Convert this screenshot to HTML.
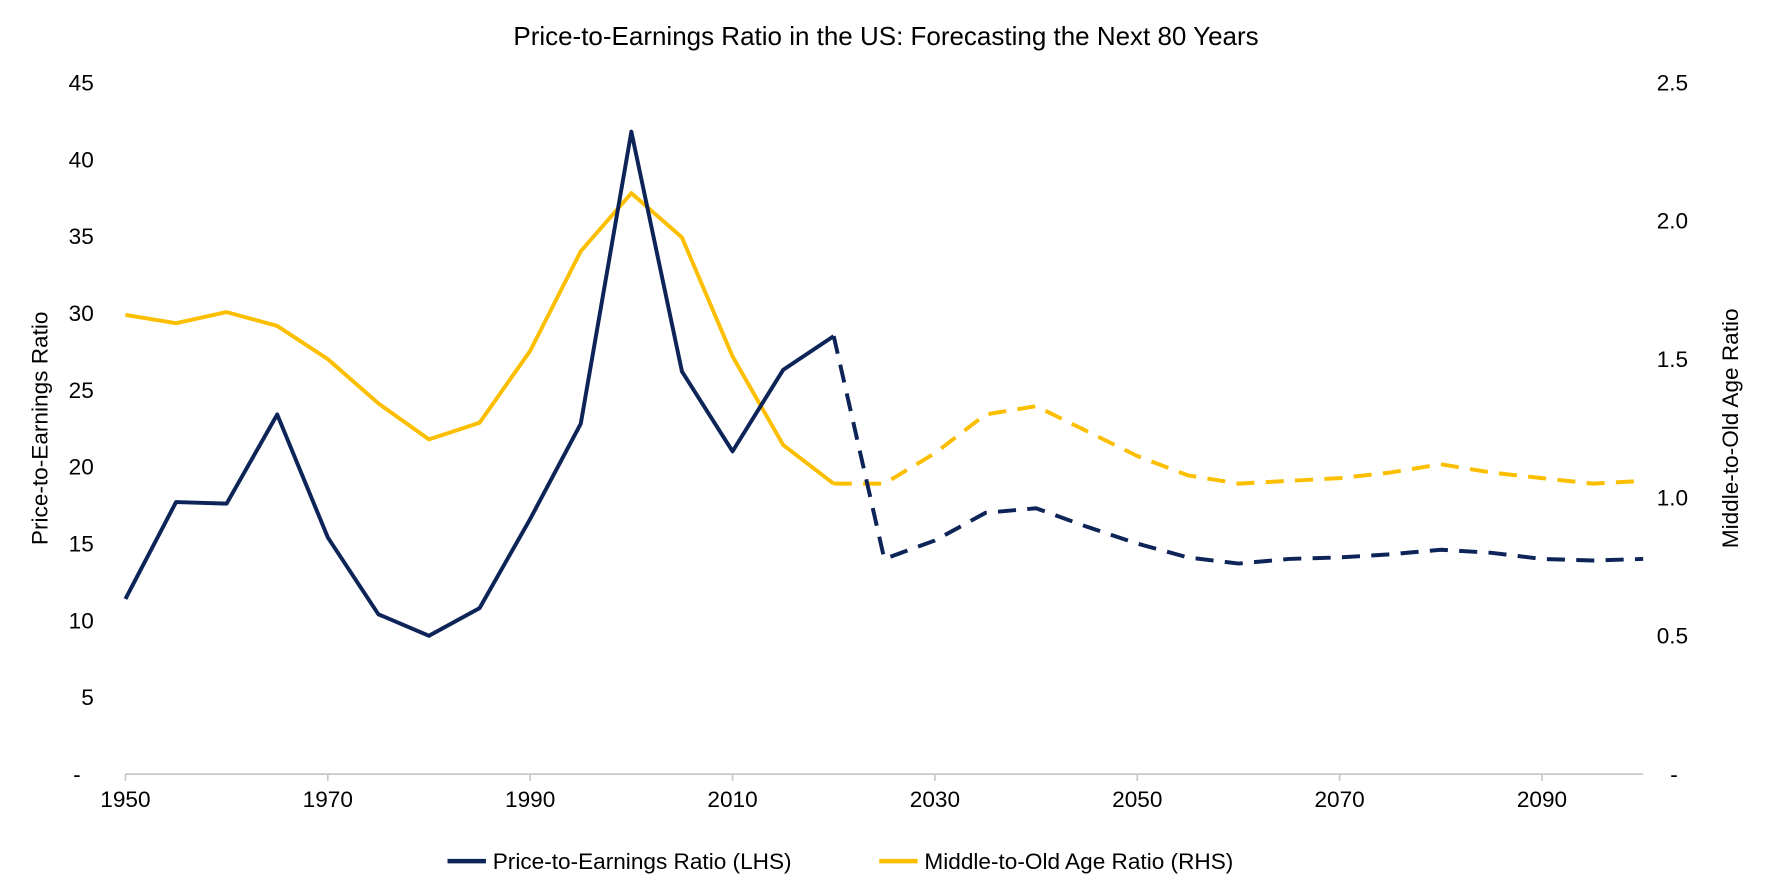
<!DOCTYPE html>
<html><head><meta charset="utf-8">
<style>
html,body{margin:0;padding:0;background:#fff;}
svg{display:block;font-family:"Liberation Sans",Arial,sans-serif;}
</style></head>
<body>
<svg id="chart" width="1772" height="886" viewBox="0 0 1568 784" preserveAspectRatio="none">
<text x="784" y="40" text-anchor="middle" font-size="23" fill="#000">Price-to-Earnings Ratio in the US: Forecasting the Next 80 Years</text>
<g id="axes"></g>
<g id="series"></g>
<g>
<line x1="396" y1="762" x2="430" y2="762" stroke="#0d2458" stroke-width="4"/>
<text x="436" y="769" font-size="20" fill="#000">Price-to-Earnings Ratio (LHS)</text>
<line x1="778" y1="762" x2="812" y2="762" stroke="#fbbf00" stroke-width="4"/>
<text x="818" y="769" font-size="20" fill="#000">Middle-to-Old Age Ratio (RHS)</text>
</g>
</svg>
<script>
const years = [1950,1955,1960,1965,1970,1975,1980,1985,1990,1995,2000,2005,2010,2015,2020,2025,2030,2035,2040,2045,2050,2055,2060,2065,2070,2075,2080,2085,2090,2095,2100];
const peValues = [11.4,17.7,17.6,23.4,15.4,10.4,9.0,10.8,16.6,22.8,41.8,26.2,21.0,26.3,28.5,14.0,15.2,17.0,17.3,16.1,15.0,14.1,13.7,14.0,14.1,14.3,14.6,14.4,14.0,13.9,14.0];
const ageValues = [1.66,1.63,1.67,1.62,1.50,1.34,1.21,1.27,1.53,1.89,2.10,1.94,1.51,1.19,1.05,1.05,1.16,1.30,1.33,1.24,1.15,1.08,1.05,1.06,1.07,1.09,1.12,1.09,1.07,1.05,1.06];
const forecastStartYear = 2020;
const leftTicks = [0,5,10,15,20,25,30,35,40,45];
const rightTicks = [0,0.5,1.0,1.5,2.0,2.5];
const xTickYears = [1950,1970,1990,2010,2030,2050,2070,2090];

const X0=111, X1=1454, YB=685, YT=73;
const xs = y => X0 + (y-1950)/(2100-1950)*(X1-X0);
const yl = v => YB - v/45*(YB-YT);
const yr = v => YB - v/2.5*(YB-YT);
const NS="http://www.w3.org/2000/svg";
function mk(tag, attrs, parent){const e=document.createElementNS(NS,tag);for(const k in attrs)e.setAttribute(k,attrs[k]);parent.appendChild(e);return e;}
const axes=document.getElementById('axes'), series=document.getElementById('series');

const xa=mk('line',{x1:X0,y1:YB,x2:X1,y2:YB,stroke:'#c8c8c8','stroke-width':1.5},axes);


xTickYears.forEach(y=>{const t=mk('line',{x1:xs(y),y1:YB,x2:xs(y),y2:YB+6,stroke:'#c8c8c8','stroke-width':1.5},axes);

});
xTickYears.forEach(y=>{const t=mk('text',{x:xs(y),y:YB+29,'text-anchor':'middle','font-size':20,fill:'#000'},axes);t.textContent=y;

});
leftTicks.forEach(v=>{const t=mk('text',{x:v===0?68:83,y:yl(v)+7,'text-anchor':v===0?'middle':'end','font-size':20,fill:'#000'},axes);t.textContent=v===0?'-':v;

});
rightTicks.forEach(v=>{const t=mk('text',{x:v===0?1478:1466,y:yr(v)+7,'text-anchor':'start','font-size':20,fill:'#000'},axes);t.textContent=v===0?'-':v.toFixed(1);

});
const lt=mk('text',{x:0,y:0,'text-anchor':'middle','font-size':20,fill:'#000',transform:`translate(42,${(YB+YT)/2}) rotate(-90)`},axes);lt.textContent='Price-to-Earnings Ratio';


const rt=mk('text',{x:0,y:0,'text-anchor':'middle','font-size':20,fill:'#000',transform:`translate(1538,${(YB+YT)/2}) rotate(-90)`},axes);rt.textContent='Middle-to-Old Age Ratio';



function draw(vals, yfn, color, name){
  const solid=[], dash=[];
  years.forEach((y,i)=>{const p=xs(y)+','+yfn(vals[i]); if(y<=forecastStartYear) solid.push(p); if(y>=forecastStartYear) dash.push(p);});
  const a=mk('polyline',{points:solid.join(' '),fill:'none',stroke:color,'stroke-width':3.5,'stroke-linejoin':'round'},series);
  
  
  const b=mk('polyline',{points:dash.join(' '),fill:'none',stroke:color,'stroke-width':3.5,'stroke-dasharray':'16,10'},series);
  
  
}
draw(ageValues, yr, '#fbbf00', 'age-ratio');
draw(peValues, yl, '#0d2458', 'pe-ratio');
</script>
</body></html>
